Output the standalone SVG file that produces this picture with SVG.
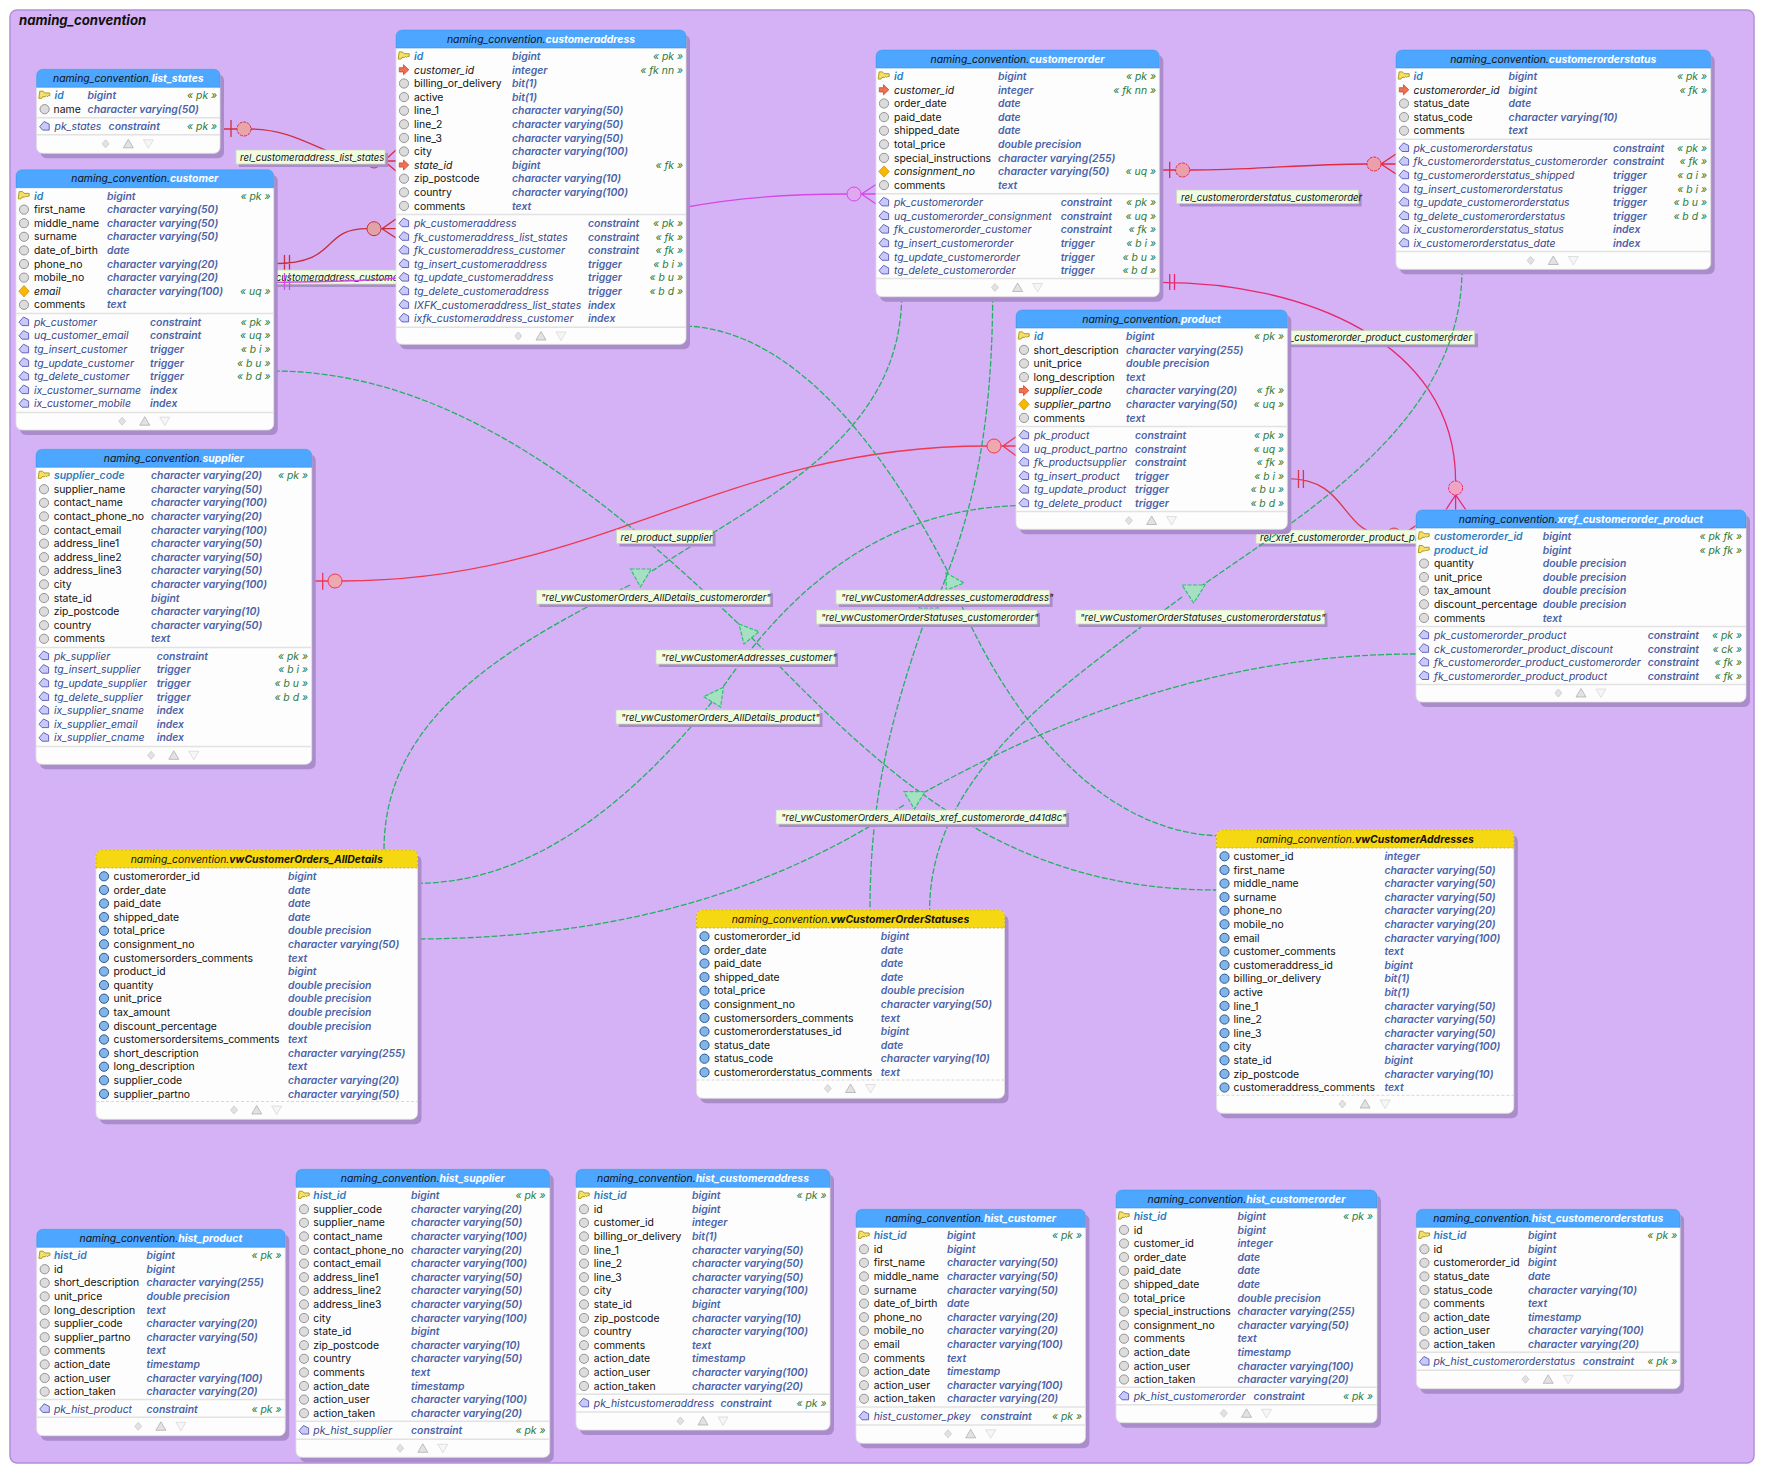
<svg xmlns="http://www.w3.org/2000/svg" width="1765" height="1476" viewBox="0 0 1765 1476">
<style>
text{font-family:"Inter","Liberation Sans",sans-serif;font-size:10.4px;fill:#111}
.h{text-anchor:middle;font-style:italic}
.w{font-weight:700;fill:#fff}
.b{font-weight:700;fill:#111}
.t{font-style:italic;font-weight:600;fill:#4a62a8}
.g{font-style:italic;fill:#2a7a3a;text-anchor:end}
.p{font-style:italic;font-weight:600;fill:#2a7cc0}
.f{font-style:italic}
.i{font-style:italic;fill:#35458c}
.s{fill:#a98cc9}
.bd{fill:#fdfdfd;stroke:#dfdfdf;stroke-width:.8}
.hd{fill:#4da6ff;stroke:#3d8edd;stroke-width:.6}
.hv{fill:#f6d812;stroke:#c9a900;stroke-width:.8;stroke-dasharray:2 2}
.sp{stroke:#e2e2e2;stroke-width:1.5;fill:none}
.sd{stroke:#d8d8d8;stroke-width:1;fill:none;stroke-dasharray:3 2}
.l{fill:none;stroke-width:1.3}
.d{fill:none;stroke:#22b162;stroke-width:1.3;stroke-dasharray:6 2}
.tr{fill:#a6e0c2;stroke:#2fc273;stroke-width:1.2;stroke-dasharray:4 1.5}
.lb{fill:#f0fde2;stroke:#ccd9b8;stroke-width:.8}
.ls{fill:#a98cc9}
.lt{font-style:italic;fill:#111;font-size:9.6px}
</style>
<defs>
<circle id="c" cx="8" cy="-3.6" r="4.6" fill="#dcdcdc" stroke="#959595"/>
<path id="k" d="M3.2,-8h3.3l1.5,1.8h5.2v2.7h-1.5l-1,1l-1,-1l-1,1h-2.7l-1,1.7h-2.8z" fill="#f5e06a" stroke="#b09a20"/>
<path id="a" d="M3.3,-5.8h4.2v-2.9l5.3,5l-5.3,5v-2.9h-4.2z" fill="#f07050" stroke="#c8452f" stroke-width=".8"/>
<path id="u" d="M8,-9.2l5.2,5.6l-5.2,5.6l-5.2,-5.6z" fill="#f8b800" stroke="#d09000" stroke-width=".8"/>
<path id="x" d="M3,-3.6L7.5,-8.8L12.6,-6.2V-0.2H6Z" fill="#c9c9f7" stroke="#5858b8" stroke-width=".9"/>
<circle id="v" cx="8" cy="-3.6" r="4.6" fill="#82b4ea" stroke="#2a5a90"/>
<g id="fi"><path d="M-22.7,-4l3.5,4l-3.5,4l-3.5,-4z" fill="#e2e2e2" stroke="#c4c4c4" stroke-width=".7"/><path d="M0,-4.5l5,8.5h-10z" fill="#e2e2e2" stroke="#a8a8a8" stroke-width=".7"/><path d="M20,4.5l-5,-8.5h10z" fill="#f6f6f6" stroke="#d4d4d4" stroke-width=".7"/></g>
</defs>
<rect x="10" y="10" width="1744" height="1453" rx="7" fill="#d5b2f5" stroke="#b48fd8" stroke-width="1.5"/>
<text x="19" y="25" style="font-size:13.2px;font-weight:700;font-style:italic">naming_convention</text>
<g id="connectors">
<g id="rel_customeraddress_list_states"><path class="l" stroke="#d0303f" d="M220,129H237M251,129C300,129 330,161 367,161M381,161H396M396,150L384,161L396,171M231,120V137"/><circle cx="244" cy="129" r="7" fill="#e8a6aa" stroke="#d0303f" stroke-dasharray="3 1"/><circle cx="374" cy="161" r="7" fill="#e8a6aa" stroke="#d0303f"/><rect class="ls" x="239" y="153" width="149" height="14"/><rect class="lb" x="236" y="150" width="149" height="14"/><text class="lt" x="240" y="160.5">rel_customeraddress_list_states</text></g>
<g id="rel_customeraddress_customer"><path class="l" stroke="#c62f3c" d="M274,263.7C340,263.7 320,228.7 367,228.7M381,228.7H396M396,219L382,228.7L396,238M284.5,255V271M289.5,255V271"/><circle cx="374" cy="228.7" r="7" fill="#e0a4a8" stroke="#c62f3c"/><rect class="ls" x="261" y="273" width="154" height="14"/><rect class="lb" x="258" y="270" width="154" height="14"/><text class="lt" x="260" y="280.5">rel_customeraddress_customer</text></g>
<g id="rel_customerorder_customer"><path class="l" stroke="#d648e6" d="M274,282.3C300,282 370,281 396,278L687,207C740,197 800,194 847,194M861,194H876M876,184.5L861.5,194L876,204M284.5,273V290M289.5,273V290"/><circle cx="854" cy="194" r="7" fill="#dfa8f0" stroke="#d648e6"/></g>
<g id="rel_customerorderstatus_customerorder"><path class="l" stroke="#e22a40" d="M1159.3,170H1176M1190,170C1260,170 1300,164 1367,164M1381,164H1396M1396,154L1381,164L1396,174M1169.7,161.7V178"/><circle cx="1182.6" cy="170" r="7" fill="#eaa0ac" stroke="#e22a40" stroke-dasharray="3 1"/><circle cx="1374" cy="164" r="7" fill="#eaa0ac" stroke="#e22a40" stroke-dasharray="3 1"/><rect class="ls" x="1179.6" y="193" width="182" height="13.5"/><rect class="lb" x="1176.6" y="190" width="182" height="13.5"/><text class="lt" x="1181" y="200.5">rel_customerorderstatus_customerorder</text></g>
<g id="rel_xref_customerorder_product_customerorder"><path class="l" stroke="#e8286e" d="M1159.3,282.3C1300,282 1455.6,340 1455.6,481M1455.6,495V510M1445.8,510L1455.6,495L1466,510M1169.7,274V290M1174.5,274V290"/><circle cx="1455.6" cy="488" r="7" fill="#efa4c4" stroke="#e8286e" stroke-dasharray="3 1"/><rect class="ls" x="1233" y="333.7" width="245" height="13.5"/><rect class="lb" x="1230" y="330.7" width="244.6" height="13.5"/><text class="lt" x="1472" y="341" text-anchor="end">rel_xref_customerorder_product_customerorder</text></g>
<g id="rel_xref_customerorder_product_product"><path class="l" stroke="#d8384e" d="M1287.3,478.7C1350,478.7 1340,535 1387,535M1401,535H1416M1416,525.5L1402,535L1416,545M1298.5,470V488M1303.4,470V488"/><circle cx="1394" cy="535" r="7" fill="#e8a4ac" stroke="#d8384e"/><rect class="ls" x="1259" y="533" width="220" height="13.5"/><rect class="lb" x="1256" y="530" width="220" height="13.5"/><text class="lt" x="1260" y="540.5">rel_xref_customerorder_product_product</text></g>
<g id="rel_product_supplier"><path class="l" stroke="#f03850" d="M311.7,581H328M342,581C600,581 720,446 987,446M1001,446H1016M1016,436.7L1003,446L1016,455.7M322.7,572.7V589.7"/><circle cx="335" cy="581" r="7" fill="#f0a8b0" stroke="#f03850"/><circle cx="994" cy="446" r="7" fill="#f0a8b0" stroke="#f03850"/></g>
<g id="rel_customerorders_customerorder"><path class="d" d="M901.7,296.7C900,440 760,500 652,571M630,585C500,650 384,720 384,850"/><path class="tr" d="M630.5,569H651.4L640.4,586.7Z"/></g>
<g id="rel_customeraddresses_customer"><path class="d" d="M273.7,371C460,371 620,510 745,630M751,637C880,770 1000,890 1216.5,890"/><path class="tr" d="M739,624L759,631.7L744,644Z"/></g>
<g id="rel_customeraddresses_customeraddress"><path class="d" d="M686,326C790,330 880,440 948,572M955,590C1000,700 1090,830 1216.5,835.7"/><path class="tr" d="M946,572.7L964,583L946.4,590Z"/></g>
<g id="rel_customerorderstatuses_customerorder"><path class="d" d="M992.7,296.7C992,440 970,520 937,600M925,620C890,720 870,800 870,910"/><path class="tr" d="M935,595L918,608L938,608Z"/></g>
<g id="rel_customerorderstatuses_status"><path class="d" d="M1462,269.3C1462,420 1310,510 1200,587M1182,597C1070,680 930,770 929.6,910"/><path class="tr" d="M1182,585H1205L1193.7,603Z"/></g>
<g id="rel_customerorders_product"><path class="d" d="M1016,505.7C880,510 790,590 723,687M712,702C640,790 540,883 417.5,883.3"/><path class="tr" d="M723.4,687.3L703.6,696.7L720.6,707Z"/></g>
<g id="rel_customerorders_xref"><path class="d" d="M1416,654C1250,654 1090,700 925,792M904,805C790,880 640,938 417.5,939"/><path class="tr" d="M904,791.7H925L914.4,809Z"/></g>
<g id="labels">
<rect class="ls" x="619.6" y="533" width="96" height="13.5"/><rect class="lb" x="616.6" y="530" width="96" height="13.5"/><text class="lt" x="620.6" y="540.5">rel_product_supplier</text>
<rect class="ls" x="539.4" y="593" width="233.6" height="14"/><rect class="lb" x="536.4" y="590" width="233.6" height="14"/><text class="lt" x="541" y="600.5">"rel_vwCustomerOrders_AllDetails_customerorder"</text>
<rect class="ls" x="839" y="593" width="213.6" height="14"/><rect class="lb" x="836" y="590" width="213.6" height="14"/><text class="lt" x="841" y="600.5">"rel_vwCustomerAddresses_customeraddress"</text>
<rect class="ls" x="819.3" y="613" width="220.7" height="14"/><rect class="lb" x="816.3" y="610" width="220.7" height="14"/><text class="lt" x="821" y="620.5">"rel_vwCustomerOrderStatuses_customerorder"</text>
<rect class="ls" x="659" y="653" width="179" height="14"/><rect class="lb" x="656" y="650" width="179" height="14"/><text class="lt" x="661" y="660.5">"rel_vwCustomerAddresses_customer"</text>
<rect class="ls" x="619" y="713" width="203.5" height="14"/><rect class="lb" x="616" y="710" width="203.5" height="14"/><text class="lt" x="621" y="720.5">"rel_vwCustomerOrders_AllDetails_product"</text>
<rect class="ls" x="779" y="813" width="290" height="14"/><rect class="lb" x="776" y="810" width="290" height="14"/><text class="lt" x="781" y="820.5">"rel_vwCustomerOrders_AllDetails_xref_customerorde_d41d8c"</text>
<rect class="ls" x="1078.6" y="613" width="248.8" height="14"/><rect class="lb" x="1075.6" y="610" width="248.8" height="14"/><text class="lt" x="1080" y="620.5">"rel_vwCustomerOrderStatuses_customerorderstatus"</text>
</g>
</g>
<g id="list_states" transform="translate(36.6,69.3)"><rect class="s" x="4" y="5" width="183.4" height="84" rx="6"/><rect class="bd" width="183.4" height="84" rx="6"/><path class="hd" d="M0,18V6a6,6 0 0 1 6,-6H177.4a6,6 0 0 1 6,6V18Z"/><text class="h" x="91.7" y="12.5">naming_convention.<tspan class="w">list_states</tspan></text>
<g transform="translate(0,29.9)"><use href="#k"/><text class="p" x="18">id</text><text class="t" x="51">bigint</text><text class="g" x="180.5">« pk »</text></g>
<g transform="translate(0,43.5)"><use href="#c"/><text x="17">name</text><text class="t" x="51">character varying(50)</text></g>
<path class="sp" d="M0,48.5H183.4"/>
<g transform="translate(0,61)"><use href="#x"/><text class="i" x="18">pk_states</text><text class="t" x="72">constraint</text><text class="g" x="180.5">« pk »</text></g>
<path class="sp" d="M0,65.5H183.4"/><use href="#fi" x="91.7" y="74.5"/></g>
<g id="customeraddress" transform="translate(396,30)"><rect class="s" x="4" y="5" width="290" height="314.3" rx="6"/><rect class="bd" width="290" height="314.3" rx="6"/><path class="hd" d="M0,18V6a6,6 0 0 1 6,-6H284a6,6 0 0 1 6,6V18Z"/><text class="h" x="145" y="12.5">naming_convention.<tspan class="w">customeraddress</tspan></text>
<g transform="translate(0,29.9)"><use href="#k"/><text class="p" x="18">id</text><text class="t" x="116">bigint</text><text class="g" x="287">« pk »</text></g>
<g transform="translate(0,43.5)"><use href="#a"/><text class="f" x="18">customer_id</text><text class="t" x="116">integer</text><text class="g" x="287">« fk nn »</text></g>
<g transform="translate(0,57.1)"><use href="#c"/><text x="18">billing_or_delivery</text><text class="t" x="116">bit(1)</text></g>
<g transform="translate(0,70.7)"><use href="#c"/><text x="18">active</text><text class="t" x="116">bit(1)</text></g>
<g transform="translate(0,84.3)"><use href="#c"/><text x="18">line_1</text><text class="t" x="116">character varying(50)</text></g>
<g transform="translate(0,97.9)"><use href="#c"/><text x="18">line_2</text><text class="t" x="116">character varying(50)</text></g>
<g transform="translate(0,111.5)"><use href="#c"/><text x="18">line_3</text><text class="t" x="116">character varying(50)</text></g>
<g transform="translate(0,125.1)"><use href="#c"/><text x="18">city</text><text class="t" x="116">character varying(100)</text></g>
<g transform="translate(0,138.7)"><use href="#a"/><text class="f" x="18">state_id</text><text class="t" x="116">bigint</text><text class="g" x="287">« fk »</text></g>
<g transform="translate(0,152.3)"><use href="#c"/><text x="18">zip_postcode</text><text class="t" x="116">character varying(10)</text></g>
<g transform="translate(0,165.9)"><use href="#c"/><text x="18">country</text><text class="t" x="116">character varying(100)</text></g>
<g transform="translate(0,179.5)"><use href="#c"/><text x="18">comments</text><text class="t" x="116">text</text></g>
<path class="sp" d="M0,184.5H290"/>
<g transform="translate(0,3.8)">
<g transform="translate(0,193.1)"><use href="#x"/><text class="i" x="18">pk_customeraddress</text><text class="t" x="192">constraint</text><text class="g" x="287">« pk »</text></g>
<g transform="translate(0,206.7)"><use href="#x"/><text class="i" x="18">fk_customeraddress_list_states</text><text class="t" x="192">constraint</text><text class="g" x="287">« fk »</text></g>
<g transform="translate(0,220.3)"><use href="#x"/><text class="i" x="18">fk_customeraddress_customer</text><text class="t" x="192">constraint</text><text class="g" x="287">« fk »</text></g>
<g transform="translate(0,233.9)"><use href="#x"/><text class="i" x="18">tg_insert_customeraddress</text><text class="t" x="192">trigger</text><text class="g" x="287">« b i »</text></g>
<g transform="translate(0,247.5)"><use href="#x"/><text class="i" x="18">tg_update_customeraddress</text><text class="t" x="192">trigger</text><text class="g" x="287">« b u »</text></g>
<g transform="translate(0,261.1)"><use href="#x"/><text class="i" x="18">tg_delete_customeraddress</text><text class="t" x="192">trigger</text><text class="g" x="287">« b d »</text></g>
<g transform="translate(0,274.7)"><use href="#x"/><text class="i" x="18">IXFK_customeraddress_list_states</text><text class="t" x="192">index</text></g>
<g transform="translate(0,288.3)"><use href="#x"/><text class="i" x="18">ixfk_customeraddress_customer</text><text class="t" x="192">index</text></g>
</g>
<path class="sp" d="M0,297.3H290"/><use href="#fi" x="145" y="306"/></g>
<g id="customer" transform="translate(16,169.7)"><rect class="s" x="4" y="5" width="257.7" height="260.3" rx="6"/><rect class="bd" width="257.7" height="260.3" rx="6"/><path class="hd" d="M0,18V6a6,6 0 0 1 6,-6H251.7a6,6 0 0 1 6,6V18Z"/><text class="h" x="128.8" y="12.5">naming_convention.<tspan class="w">customer</tspan></text>
<g transform="translate(0,29.9)"><use href="#k"/><text class="p" x="18">id</text><text class="t" x="91">bigint</text><text class="g" x="254.5">« pk »</text></g>
<g transform="translate(0,43.5)"><use href="#c"/><text x="18">first_name</text><text class="t" x="91">character varying(50)</text></g>
<g transform="translate(0,57.1)"><use href="#c"/><text x="18">middle_name</text><text class="t" x="91">character varying(50)</text></g>
<g transform="translate(0,70.7)"><use href="#c"/><text x="18">surname</text><text class="t" x="91">character varying(50)</text></g>
<g transform="translate(0,84.3)"><use href="#c"/><text x="18">date_of_birth</text><text class="t" x="91">date</text></g>
<g transform="translate(0,97.9)"><use href="#c"/><text x="18">phone_no</text><text class="t" x="91">character varying(20)</text></g>
<g transform="translate(0,111.5)"><use href="#c"/><text x="18">mobile_no</text><text class="t" x="91">character varying(20)</text></g>
<g transform="translate(0,125.1)"><use href="#u"/><text class="f" x="18">email</text><text class="t" x="91">character varying(100)</text><text class="g" x="254.5">« uq »</text></g>
<g transform="translate(0,138.7)"><use href="#c"/><text x="18">comments</text><text class="t" x="91">text</text></g>
<path class="sp" d="M0,143.7H257.7"/>
<g transform="translate(0,3.8)">
<g transform="translate(0,152.3)"><use href="#x"/><text class="i" x="18">pk_customer</text><text class="t" x="134">constraint</text><text class="g" x="254.5">« pk »</text></g>
<g transform="translate(0,165.9)"><use href="#x"/><text class="i" x="18">uq_customer_email</text><text class="t" x="134">constraint</text><text class="g" x="254.5">« uq »</text></g>
<g transform="translate(0,179.5)"><use href="#x"/><text class="i" x="18">tg_insert_customer</text><text class="t" x="134">trigger</text><text class="g" x="254.5">« b i »</text></g>
<g transform="translate(0,193.1)"><use href="#x"/><text class="i" x="18">tg_update_customer</text><text class="t" x="134">trigger</text><text class="g" x="254.5">« b u »</text></g>
<g transform="translate(0,206.7)"><use href="#x"/><text class="i" x="18">tg_delete_customer</text><text class="t" x="134">trigger</text><text class="g" x="254.5">« b d »</text></g>
<g transform="translate(0,220.3)"><use href="#x"/><text class="i" x="18">ix_customer_surname</text><text class="t" x="134">index</text></g>
<g transform="translate(0,233.9)"><use href="#x"/><text class="i" x="18">ix_customer_mobile</text><text class="t" x="134">index</text></g>
</g>
<path class="sp" d="M0,242.9H257.7"/><use href="#fi" x="128.8" y="251.5"/></g>
<g id="customerorder" transform="translate(876,50)"><rect class="s" x="4" y="5" width="283.3" height="246.7" rx="6"/><rect class="bd" width="283.3" height="246.7" rx="6"/><path class="hd" d="M0,18V6a6,6 0 0 1 6,-6H277.3a6,6 0 0 1 6,6V18Z"/><text class="h" x="141.6" y="12.5">naming_convention.<tspan class="w">customerorder</tspan></text>
<g transform="translate(0,29.9)"><use href="#k"/><text class="p" x="18">id</text><text class="t" x="122">bigint</text><text class="g" x="280">« pk »</text></g>
<g transform="translate(0,43.5)"><use href="#a"/><text class="f" x="18">customer_id</text><text class="t" x="122">integer</text><text class="g" x="280">« fk nn »</text></g>
<g transform="translate(0,57.1)"><use href="#c"/><text x="18">order_date</text><text class="t" x="122">date</text></g>
<g transform="translate(0,70.7)"><use href="#c"/><text x="18">paid_date</text><text class="t" x="122">date</text></g>
<g transform="translate(0,84.3)"><use href="#c"/><text x="18">shipped_date</text><text class="t" x="122">date</text></g>
<g transform="translate(0,97.9)"><use href="#c"/><text x="18">total_price</text><text class="t" x="122">double precision</text></g>
<g transform="translate(0,111.5)"><use href="#c"/><text x="18">special_instructions</text><text class="t" x="122">character varying(255)</text></g>
<g transform="translate(0,125.1)"><use href="#u"/><text class="f" x="18">consignment_no</text><text class="t" x="122">character varying(50)</text><text class="g" x="280">« uq »</text></g>
<g transform="translate(0,138.7)"><use href="#c"/><text x="18">comments</text><text class="t" x="122">text</text></g>
<path class="sp" d="M0,143.7H283.3"/>
<g transform="translate(0,3.8)">
<g transform="translate(0,152.3)"><use href="#x"/><text class="i" x="18">pk_customerorder</text><text class="t" x="184.7">constraint</text><text class="g" x="280">« pk »</text></g>
<g transform="translate(0,165.9)"><use href="#x"/><text class="i" x="18">uq_customerorder_consignment</text><text class="t" x="184.7">constraint</text><text class="g" x="280">« uq »</text></g>
<g transform="translate(0,179.5)"><use href="#x"/><text class="i" x="18">fk_customerorder_customer</text><text class="t" x="184.7">constraint</text><text class="g" x="280">« fk »</text></g>
<g transform="translate(0,193.1)"><use href="#x"/><text class="i" x="18">tg_insert_customerorder</text><text class="t" x="184.7">trigger</text><text class="g" x="280">« b i »</text></g>
<g transform="translate(0,206.7)"><use href="#x"/><text class="i" x="18">tg_update_customerorder</text><text class="t" x="184.7">trigger</text><text class="g" x="280">« b u »</text></g>
<g transform="translate(0,220.3)"><use href="#x"/><text class="i" x="18">tg_delete_customerorder</text><text class="t" x="184.7">trigger</text><text class="g" x="280">« b d »</text></g>
</g>
<path class="sp" d="M0,228.6H283.3"/><use href="#fi" x="141.6" y="237.5"/></g>
<g id="customerorderstatus" transform="translate(1396,50)"><rect class="s" x="4" y="5" width="314.7" height="219.3" rx="6"/><rect class="bd" width="314.7" height="219.3" rx="6"/><path class="hd" d="M0,18V6a6,6 0 0 1 6,-6H308.7a6,6 0 0 1 6,6V18Z"/><text class="h" x="157.3" y="12.5">naming_convention.<tspan class="w">customerorderstatus</tspan></text>
<g transform="translate(0,29.9)"><use href="#k"/><text class="p" x="17.5">id</text><text class="t" x="112.6">bigint</text><text class="g" x="311">« pk »</text></g>
<g transform="translate(0,43.5)"><use href="#a"/><text class="f" x="17.5">customerorder_id</text><text class="t" x="112.6">bigint</text><text class="g" x="311">« fk »</text></g>
<g transform="translate(0,57.1)"><use href="#c"/><text x="17.5">status_date</text><text class="t" x="112.6">date</text></g>
<g transform="translate(0,70.7)"><use href="#c"/><text x="17.5">status_code</text><text class="t" x="112.6">character varying(10)</text></g>
<g transform="translate(0,84.3)"><use href="#c"/><text x="17.5">comments</text><text class="t" x="112.6">text</text></g>
<path class="sp" d="M0,89.3H314.7"/>
<g transform="translate(0,3.8)">
<g transform="translate(0,97.9)"><use href="#x"/><text class="i" x="17.5">pk_customerorderstatus</text><text class="t" x="217">constraint</text><text class="g" x="311">« pk »</text></g>
<g transform="translate(0,111.5)"><use href="#x"/><text class="i" x="17.5">fk_customerorderstatus_customerorder</text><text class="t" x="217">constraint</text><text class="g" x="311">« fk »</text></g>
<g transform="translate(0,125.1)"><use href="#x"/><text class="i" x="17.5">tg_customerorderstatus_shipped</text><text class="t" x="217">trigger</text><text class="g" x="311">« a i »</text></g>
<g transform="translate(0,138.7)"><use href="#x"/><text class="i" x="17.5">tg_insert_customerorderstatus</text><text class="t" x="217">trigger</text><text class="g" x="311">« b i »</text></g>
<g transform="translate(0,152.3)"><use href="#x"/><text class="i" x="17.5">tg_update_customerorderstatus</text><text class="t" x="217">trigger</text><text class="g" x="311">« b u »</text></g>
<g transform="translate(0,165.9)"><use href="#x"/><text class="i" x="17.5">tg_delete_customerorderstatus</text><text class="t" x="217">trigger</text><text class="g" x="311">« b d »</text></g>
<g transform="translate(0,179.5)"><use href="#x"/><text class="i" x="17.5">ix_customerorderstatus_status</text><text class="t" x="217">index</text></g>
<g transform="translate(0,193.1)"><use href="#x"/><text class="i" x="17.5">ix_customerorderstatus_date</text><text class="t" x="217">index</text></g>
</g>
<path class="sp" d="M0,201.6H314.7"/><use href="#fi" x="157.3" y="210.5"/></g>
<g id="product" transform="translate(1016,310)"><rect class="s" x="4" y="5" width="271.3" height="219.3" rx="6"/><rect class="bd" width="271.3" height="219.3" rx="6"/><path class="hd" d="M0,18V6a6,6 0 0 1 6,-6H265.3a6,6 0 0 1 6,6V18Z"/><text class="h" x="135.6" y="12.5">naming_convention.<tspan class="w">product</tspan></text>
<g transform="translate(0,29.9)"><use href="#k"/><text class="p" x="18">id</text><text class="t" x="110">bigint</text><text class="g" x="268">« pk »</text></g>
<g transform="translate(0,43.5)"><use href="#c"/><text x="17.6">short_description</text><text class="t" x="110">character varying(255)</text></g>
<g transform="translate(0,57.1)"><use href="#c"/><text x="17.6">unit_price</text><text class="t" x="110">double precision</text></g>
<g transform="translate(0,70.7)"><use href="#c"/><text x="17.6">long_description</text><text class="t" x="110">text</text></g>
<g transform="translate(0,84.3)"><use href="#a"/><text class="f" x="18">supplier_code</text><text class="t" x="110">character varying(20)</text><text class="g" x="268">« fk »</text></g>
<g transform="translate(0,97.9)"><use href="#u"/><text class="f" x="18">supplier_partno</text><text class="t" x="110">character varying(50)</text><text class="g" x="268">« uq »</text></g>
<g transform="translate(0,111.5)"><use href="#c"/><text x="17.6">comments</text><text class="t" x="110">text</text></g>
<path class="sp" d="M0,116.5H271.3"/>
<g transform="translate(0,3.8)">
<g transform="translate(0,125.1)"><use href="#x"/><text class="i" x="18">pk_product</text><text class="t" x="119">constraint</text><text class="g" x="268">« pk »</text></g>
<g transform="translate(0,138.7)"><use href="#x"/><text class="i" x="18">uq_product_partno</text><text class="t" x="119">constraint</text><text class="g" x="268">« uq »</text></g>
<g transform="translate(0,152.3)"><use href="#x"/><text class="i" x="18">fk_productsupplier</text><text class="t" x="119">constraint</text><text class="g" x="268">« fk »</text></g>
<g transform="translate(0,165.9)"><use href="#x"/><text class="i" x="18">tg_insert_product</text><text class="t" x="119">trigger</text><text class="g" x="268">« b i »</text></g>
<g transform="translate(0,179.5)"><use href="#x"/><text class="i" x="18">tg_update_product</text><text class="t" x="119">trigger</text><text class="g" x="268">« b u »</text></g>
<g transform="translate(0,193.1)"><use href="#x"/><text class="i" x="18">tg_delete_product</text><text class="t" x="119">trigger</text><text class="g" x="268">« b d »</text></g>
</g>
<path class="sp" d="M0,201.6H271.3"/><use href="#fi" x="135.6" y="210.5"/></g>
<g id="xref_customerorder_product" transform="translate(1416,510)"><rect class="s" x="4" y="5" width="330" height="192" rx="6"/><rect class="bd" width="330" height="192" rx="6"/><path class="hd" d="M0,18V6a6,6 0 0 1 6,-6H324a6,6 0 0 1 6,6V18Z"/><text class="h" x="165" y="12.5">naming_convention.<tspan class="w">xref_customerorder_product</tspan></text>
<g transform="translate(0,29.9)"><use href="#k"/><text class="p" x="18">customerorder_id</text><text class="t" x="126.8">bigint</text><text class="g" x="326">« pk fk »</text></g>
<g transform="translate(0,43.5)"><use href="#k"/><text class="p" x="18">product_id</text><text class="t" x="126.8">bigint</text><text class="g" x="326">« pk fk »</text></g>
<g transform="translate(0,57.1)"><use href="#c"/><text x="18">quantity</text><text class="t" x="126.8">double precision</text></g>
<g transform="translate(0,70.7)"><use href="#c"/><text x="18">unit_price</text><text class="t" x="126.8">double precision</text></g>
<g transform="translate(0,84.3)"><use href="#c"/><text x="18">tax_amount</text><text class="t" x="126.8">double precision</text></g>
<g transform="translate(0,97.9)"><use href="#c"/><text x="18">discount_percentage</text><text class="t" x="126.8">double precision</text></g>
<g transform="translate(0,111.5)"><use href="#c"/><text x="18">comments</text><text class="t" x="126.8">text</text></g>
<path class="sp" d="M0,116.5H330"/>
<g transform="translate(0,3.8)">
<g transform="translate(0,125.1)"><use href="#x"/><text class="i" x="18">pk_customerorder_product</text><text class="t" x="231.7">constraint</text><text class="g" x="326">« pk »</text></g>
<g transform="translate(0,138.7)"><use href="#x"/><text class="i" x="18">ck_customerorder_product_discount</text><text class="t" x="231.7">constraint</text><text class="g" x="326">« ck »</text></g>
<g transform="translate(0,152.3)"><use href="#x"/><text class="i" x="18">fk_customerorder_product_customerorder</text><text class="t" x="231.7">constraint</text><text class="g" x="326">« fk »</text></g>
<g transform="translate(0,165.9)"><use href="#x"/><text class="i" x="18">fk_customerorder_product_product</text><text class="t" x="231.7">constraint</text><text class="g" x="326">« fk »</text></g>
</g>
<path class="sp" d="M0,174.5H330"/><use href="#fi" x="165" y="183"/></g>
<g id="supplier" transform="translate(36,449.3)"><rect class="s" x="4" y="5" width="275.7" height="315" rx="6"/><rect class="bd" width="275.7" height="315" rx="6"/><path class="hd" d="M0,18V6a6,6 0 0 1 6,-6H269.7a6,6 0 0 1 6,6V18Z"/><text class="h" x="137.8" y="12.5">naming_convention.<tspan class="w">supplier</tspan></text>
<g transform="translate(0,29.9)"><use href="#k"/><text class="p" x="18">supplier_code</text><text class="t" x="115">character varying(20)</text><text class="g" x="272">« pk »</text></g>
<g transform="translate(0,43.5)"><use href="#c"/><text x="17.7">supplier_name</text><text class="t" x="115">character varying(50)</text></g>
<g transform="translate(0,57.1)"><use href="#c"/><text x="17.7">contact_name</text><text class="t" x="115">character varying(100)</text></g>
<g transform="translate(0,70.7)"><use href="#c"/><text x="17.7">contact_phone_no</text><text class="t" x="115">character varying(20)</text></g>
<g transform="translate(0,84.3)"><use href="#c"/><text x="17.7">contact_email</text><text class="t" x="115">character varying(100)</text></g>
<g transform="translate(0,97.9)"><use href="#c"/><text x="17.7">address_line1</text><text class="t" x="115">character varying(50)</text></g>
<g transform="translate(0,111.5)"><use href="#c"/><text x="17.7">address_line2</text><text class="t" x="115">character varying(50)</text></g>
<g transform="translate(0,125.1)"><use href="#c"/><text x="17.7">address_line3</text><text class="t" x="115">character varying(50)</text></g>
<g transform="translate(0,138.7)"><use href="#c"/><text x="17.7">city</text><text class="t" x="115">character varying(100)</text></g>
<g transform="translate(0,152.3)"><use href="#c"/><text x="17.7">state_id</text><text class="t" x="115">bigint</text></g>
<g transform="translate(0,165.9)"><use href="#c"/><text x="17.7">zip_postcode</text><text class="t" x="115">character varying(10)</text></g>
<g transform="translate(0,179.5)"><use href="#c"/><text x="17.7">country</text><text class="t" x="115">character varying(50)</text></g>
<g transform="translate(0,193.1)"><use href="#c"/><text x="17.7">comments</text><text class="t" x="115">text</text></g>
<path class="sp" d="M0,198.1H275.7"/>
<g transform="translate(0,3.8)">
<g transform="translate(0,206.7)"><use href="#x"/><text class="i" x="18">pk_supplier</text><text class="t" x="120.7">constraint</text><text class="g" x="272">« pk »</text></g>
<g transform="translate(0,220.3)"><use href="#x"/><text class="i" x="18">tg_insert_supplier</text><text class="t" x="120.7">trigger</text><text class="g" x="272">« b i »</text></g>
<g transform="translate(0,233.9)"><use href="#x"/><text class="i" x="18">tg_update_supplier</text><text class="t" x="120.7">trigger</text><text class="g" x="272">« b u »</text></g>
<g transform="translate(0,247.5)"><use href="#x"/><text class="i" x="18">tg_delete_supplier</text><text class="t" x="120.7">trigger</text><text class="g" x="272">« b d »</text></g>
<g transform="translate(0,261.1)"><use href="#x"/><text class="i" x="18">ix_supplier_sname</text><text class="t" x="120.7">index</text></g>
<g transform="translate(0,274.7)"><use href="#x"/><text class="i" x="18">ix_supplier_email</text><text class="t" x="120.7">index</text></g>
<g transform="translate(0,288.3)"><use href="#x"/><text class="i" x="18">ix_supplier_cname</text><text class="t" x="120.7">index</text></g>
</g>
<path class="sp" d="M0,297.3H275.7"/><use href="#fi" x="137.8" y="306"/></g>
<g id="vwCustomerOrders_AllDetails" transform="translate(96,850)"><rect class="s" x="4" y="5" width="321.5" height="269.3" rx="6"/><rect class="bd" width="321.5" height="269.3" rx="6"/><path class="hv" d="M0,18V6a6,6 0 0 1 6,-6H315.5a6,6 0 0 1 6,6V18Z"/><text class="h" x="160.7" y="12.5">naming_convention.<tspan class="b">vwCustomerOrders_AllDetails</tspan></text>
<g transform="translate(0,29.9)"><use href="#v"/><text x="17.5">customerorder_id</text><text class="t" x="192">bigint</text></g>
<g transform="translate(0,43.5)"><use href="#v"/><text x="17.5">order_date</text><text class="t" x="192">date</text></g>
<g transform="translate(0,57.1)"><use href="#v"/><text x="17.5">paid_date</text><text class="t" x="192">date</text></g>
<g transform="translate(0,70.7)"><use href="#v"/><text x="17.5">shipped_date</text><text class="t" x="192">date</text></g>
<g transform="translate(0,84.3)"><use href="#v"/><text x="17.5">total_price</text><text class="t" x="192">double precision</text></g>
<g transform="translate(0,97.9)"><use href="#v"/><text x="17.5">consignment_no</text><text class="t" x="192">character varying(50)</text></g>
<g transform="translate(0,111.5)"><use href="#v"/><text x="17.5">customersorders_comments</text><text class="t" x="192">text</text></g>
<g transform="translate(0,125.1)"><use href="#v"/><text x="17.5">product_id</text><text class="t" x="192">bigint</text></g>
<g transform="translate(0,138.7)"><use href="#v"/><text x="17.5">quantity</text><text class="t" x="192">double precision</text></g>
<g transform="translate(0,152.3)"><use href="#v"/><text x="17.5">unit_price</text><text class="t" x="192">double precision</text></g>
<g transform="translate(0,165.9)"><use href="#v"/><text x="17.5">tax_amount</text><text class="t" x="192">double precision</text></g>
<g transform="translate(0,179.5)"><use href="#v"/><text x="17.5">discount_percentage</text><text class="t" x="192">double precision</text></g>
<g transform="translate(0,193.1)"><use href="#v"/><text x="17.5">customersordersitems_comments</text><text class="t" x="192">text</text></g>
<g transform="translate(0,206.7)"><use href="#v"/><text x="17.5">short_description</text><text class="t" x="192">character varying(255)</text></g>
<g transform="translate(0,220.3)"><use href="#v"/><text x="17.5">long_description</text><text class="t" x="192">text</text></g>
<g transform="translate(0,233.9)"><use href="#v"/><text x="17.5">supplier_code</text><text class="t" x="192">character varying(20)</text></g>
<g transform="translate(0,247.5)"><use href="#v"/><text x="17.5">supplier_partno</text><text class="t" x="192">character varying(50)</text></g>
<path class="sd" d="M0,251.5H321.5"/><use href="#fi" x="160.7" y="260"/></g>
<g id="vwCustomerOrderStatuses" transform="translate(696.5,910)"><rect class="s" x="4" y="5" width="308" height="188.3" rx="6"/><rect class="bd" width="308" height="188.3" rx="6"/><path class="hv" d="M0,18V6a6,6 0 0 1 6,-6H302a6,6 0 0 1 6,6V18Z"/><text class="h" x="154" y="12.5">naming_convention.<tspan class="b">vwCustomerOrderStatuses</tspan></text>
<g transform="translate(0,29.9)"><use href="#v"/><text x="17.5">customerorder_id</text><text class="t" x="184.3">bigint</text></g>
<g transform="translate(0,43.5)"><use href="#v"/><text x="17.5">order_date</text><text class="t" x="184.3">date</text></g>
<g transform="translate(0,57.1)"><use href="#v"/><text x="17.5">paid_date</text><text class="t" x="184.3">date</text></g>
<g transform="translate(0,70.7)"><use href="#v"/><text x="17.5">shipped_date</text><text class="t" x="184.3">date</text></g>
<g transform="translate(0,84.3)"><use href="#v"/><text x="17.5">total_price</text><text class="t" x="184.3">double precision</text></g>
<g transform="translate(0,97.9)"><use href="#v"/><text x="17.5">consignment_no</text><text class="t" x="184.3">character varying(50)</text></g>
<g transform="translate(0,111.5)"><use href="#v"/><text x="17.5">customersorders_comments</text><text class="t" x="184.3">text</text></g>
<g transform="translate(0,125.1)"><use href="#v"/><text x="17.5">customerorderstatuses_id</text><text class="t" x="184.3">bigint</text></g>
<g transform="translate(0,138.7)"><use href="#v"/><text x="17.5">status_date</text><text class="t" x="184.3">date</text></g>
<g transform="translate(0,152.3)"><use href="#v"/><text x="17.5">status_code</text><text class="t" x="184.3">character varying(10)</text></g>
<g transform="translate(0,165.9)"><use href="#v"/><text x="17.5">customerorderstatus_comments</text><text class="t" x="184.3">text</text></g>
<path class="sd" d="M0,170H308"/><use href="#fi" x="154" y="178.5"/></g>
<g id="vwCustomerAddresses" transform="translate(1216.5,830)"><rect class="s" x="4" y="5" width="297.3" height="283.3" rx="6"/><rect class="bd" width="297.3" height="283.3" rx="6"/><path class="hv" d="M0,18V6a6,6 0 0 1 6,-6H291.3a6,6 0 0 1 6,6V18Z"/><text class="h" x="148.6" y="12.5">naming_convention.<tspan class="b">vwCustomerAddresses</tspan></text>
<g transform="translate(0,29.9)"><use href="#v"/><text x="17">customer_id</text><text class="t" x="167.9">integer</text></g>
<g transform="translate(0,43.5)"><use href="#v"/><text x="17">first_name</text><text class="t" x="167.9">character varying(50)</text></g>
<g transform="translate(0,57.1)"><use href="#v"/><text x="17">middle_name</text><text class="t" x="167.9">character varying(50)</text></g>
<g transform="translate(0,70.7)"><use href="#v"/><text x="17">surname</text><text class="t" x="167.9">character varying(50)</text></g>
<g transform="translate(0,84.3)"><use href="#v"/><text x="17">phone_no</text><text class="t" x="167.9">character varying(20)</text></g>
<g transform="translate(0,97.9)"><use href="#v"/><text x="17">mobile_no</text><text class="t" x="167.9">character varying(20)</text></g>
<g transform="translate(0,111.5)"><use href="#v"/><text x="17">email</text><text class="t" x="167.9">character varying(100)</text></g>
<g transform="translate(0,125.1)"><use href="#v"/><text x="17">customer_comments</text><text class="t" x="167.9">text</text></g>
<g transform="translate(0,138.7)"><use href="#v"/><text x="17">customeraddress_id</text><text class="t" x="167.9">bigint</text></g>
<g transform="translate(0,152.3)"><use href="#v"/><text x="17">billing_or_delivery</text><text class="t" x="167.9">bit(1)</text></g>
<g transform="translate(0,165.9)"><use href="#v"/><text x="17">active</text><text class="t" x="167.9">bit(1)</text></g>
<g transform="translate(0,179.5)"><use href="#v"/><text x="17">line_1</text><text class="t" x="167.9">character varying(50)</text></g>
<g transform="translate(0,193.1)"><use href="#v"/><text x="17">line_2</text><text class="t" x="167.9">character varying(50)</text></g>
<g transform="translate(0,206.7)"><use href="#v"/><text x="17">line_3</text><text class="t" x="167.9">character varying(50)</text></g>
<g transform="translate(0,220.3)"><use href="#v"/><text x="17">city</text><text class="t" x="167.9">character varying(100)</text></g>
<g transform="translate(0,233.9)"><use href="#v"/><text x="17">state_id</text><text class="t" x="167.9">bigint</text></g>
<g transform="translate(0,247.5)"><use href="#v"/><text x="17">zip_postcode</text><text class="t" x="167.9">character varying(10)</text></g>
<g transform="translate(0,261.1)"><use href="#v"/><text x="17">customeraddress_comments</text><text class="t" x="167.9">text</text></g>
<path class="sd" d="M0,265.3H297.3"/><use href="#fi" x="148.6" y="274"/></g>
<g id="hist_product" transform="translate(36.7,1229.3)"><rect class="s" x="4" y="5" width="248.5" height="206.4" rx="6"/><rect class="bd" width="248.5" height="206.4" rx="6"/><path class="hd" d="M0,18V6a6,6 0 0 1 6,-6H242.5a6,6 0 0 1 6,6V18Z"/><text class="h" x="124.2" y="12.5">naming_convention.<tspan class="w">hist_product</tspan></text>
<g transform="translate(0,29.9)"><use href="#k"/><text class="p" x="17.3">hist_id</text><text class="t" x="109.8">bigint</text><text class="g" x="244.8">« pk »</text></g>
<g transform="translate(0,43.5)"><use href="#c"/><text x="17.3">id</text><text class="t" x="109.8">bigint</text></g>
<g transform="translate(0,57.1)"><use href="#c"/><text x="17.3">short_description</text><text class="t" x="109.8">character varying(255)</text></g>
<g transform="translate(0,70.7)"><use href="#c"/><text x="17.3">unit_price</text><text class="t" x="109.8">double precision</text></g>
<g transform="translate(0,84.3)"><use href="#c"/><text x="17.3">long_description</text><text class="t" x="109.8">text</text></g>
<g transform="translate(0,97.9)"><use href="#c"/><text x="17.3">supplier_code</text><text class="t" x="109.8">character varying(20)</text></g>
<g transform="translate(0,111.5)"><use href="#c"/><text x="17.3">supplier_partno</text><text class="t" x="109.8">character varying(50)</text></g>
<g transform="translate(0,125.1)"><use href="#c"/><text x="17.3">comments</text><text class="t" x="109.8">text</text></g>
<g transform="translate(0,138.7)"><use href="#c"/><text x="17.3">action_date</text><text class="t" x="109.8">timestamp</text></g>
<g transform="translate(0,152.3)"><use href="#c"/><text x="17.3">action_user</text><text class="t" x="109.8">character varying(100)</text></g>
<g transform="translate(0,165.9)"><use href="#c"/><text x="17.3">action_taken</text><text class="t" x="109.8">character varying(20)</text></g>
<path class="sp" d="M0,170.3H248.5"/>
<g transform="translate(0,183.3)"><use href="#x"/><text class="i" x="17.3">pk_hist_product</text><text class="t" x="109.8">constraint</text><text class="g" x="244.8">« pk »</text></g>
<path class="sp" d="M0,188H248.5"/><use href="#fi" x="124.2" y="197"/></g>
<g id="hist_supplier" transform="translate(296,1169.3)"><rect class="s" x="4" y="5" width="253.7" height="288" rx="6"/><rect class="bd" width="253.7" height="288" rx="6"/><path class="hd" d="M0,18V6a6,6 0 0 1 6,-6H247.7a6,6 0 0 1 6,6V18Z"/><text class="h" x="126.8" y="12.5">naming_convention.<tspan class="w">hist_supplier</tspan></text>
<g transform="translate(0,29.9)"><use href="#k"/><text class="p" x="17.3">hist_id</text><text class="t" x="115">bigint</text><text class="g" x="249.5">« pk »</text></g>
<g transform="translate(0,43.5)"><use href="#c"/><text x="17.3">supplier_code</text><text class="t" x="115">character varying(20)</text></g>
<g transform="translate(0,57.1)"><use href="#c"/><text x="17.3">supplier_name</text><text class="t" x="115">character varying(50)</text></g>
<g transform="translate(0,70.7)"><use href="#c"/><text x="17.3">contact_name</text><text class="t" x="115">character varying(100)</text></g>
<g transform="translate(0,84.3)"><use href="#c"/><text x="17.3">contact_phone_no</text><text class="t" x="115">character varying(20)</text></g>
<g transform="translate(0,97.9)"><use href="#c"/><text x="17.3">contact_email</text><text class="t" x="115">character varying(100)</text></g>
<g transform="translate(0,111.5)"><use href="#c"/><text x="17.3">address_line1</text><text class="t" x="115">character varying(50)</text></g>
<g transform="translate(0,125.1)"><use href="#c"/><text x="17.3">address_line2</text><text class="t" x="115">character varying(50)</text></g>
<g transform="translate(0,138.7)"><use href="#c"/><text x="17.3">address_line3</text><text class="t" x="115">character varying(50)</text></g>
<g transform="translate(0,152.3)"><use href="#c"/><text x="17.3">city</text><text class="t" x="115">character varying(100)</text></g>
<g transform="translate(0,165.9)"><use href="#c"/><text x="17.3">state_id</text><text class="t" x="115">bigint</text></g>
<g transform="translate(0,179.5)"><use href="#c"/><text x="17.3">zip_postcode</text><text class="t" x="115">character varying(10)</text></g>
<g transform="translate(0,193.1)"><use href="#c"/><text x="17.3">country</text><text class="t" x="115">character varying(50)</text></g>
<g transform="translate(0,206.7)"><use href="#c"/><text x="17.3">comments</text><text class="t" x="115">text</text></g>
<g transform="translate(0,220.3)"><use href="#c"/><text x="17.3">action_date</text><text class="t" x="115">timestamp</text></g>
<g transform="translate(0,233.9)"><use href="#c"/><text x="17.3">action_user</text><text class="t" x="115">character varying(100)</text></g>
<g transform="translate(0,247.5)"><use href="#c"/><text x="17.3">action_taken</text><text class="t" x="115">character varying(20)</text></g>
<path class="sp" d="M0,252H253.7"/>
<g transform="translate(0,265)"><use href="#x"/><text class="i" x="17.3">pk_hist_supplier</text><text class="t" x="115">constraint</text><text class="g" x="249.5">« pk »</text></g>
<path class="sp" d="M0,270H253.7"/><use href="#fi" x="126.8" y="279"/></g>
<g id="hist_customeraddress" transform="translate(576,1169.3)"><rect class="s" x="4" y="5" width="254" height="260.7" rx="6"/><rect class="bd" width="254" height="260.7" rx="6"/><path class="hd" d="M0,18V6a6,6 0 0 1 6,-6H248a6,6 0 0 1 6,6V18Z"/><text class="h" x="127" y="12.5">naming_convention.<tspan class="w">hist_customeraddress</tspan></text>
<g transform="translate(0,29.9)"><use href="#k"/><text class="p" x="17.8">hist_id</text><text class="t" x="116">bigint</text><text class="g" x="250.5">« pk »</text></g>
<g transform="translate(0,43.5)"><use href="#c"/><text x="17.8">id</text><text class="t" x="116">bigint</text></g>
<g transform="translate(0,57.1)"><use href="#c"/><text x="17.8">customer_id</text><text class="t" x="116">integer</text></g>
<g transform="translate(0,70.7)"><use href="#c"/><text x="17.8">billing_or_delivery</text><text class="t" x="116">bit(1)</text></g>
<g transform="translate(0,84.3)"><use href="#c"/><text x="17.8">line_1</text><text class="t" x="116">character varying(50)</text></g>
<g transform="translate(0,97.9)"><use href="#c"/><text x="17.8">line_2</text><text class="t" x="116">character varying(50)</text></g>
<g transform="translate(0,111.5)"><use href="#c"/><text x="17.8">line_3</text><text class="t" x="116">character varying(50)</text></g>
<g transform="translate(0,125.1)"><use href="#c"/><text x="17.8">city</text><text class="t" x="116">character varying(100)</text></g>
<g transform="translate(0,138.7)"><use href="#c"/><text x="17.8">state_id</text><text class="t" x="116">bigint</text></g>
<g transform="translate(0,152.3)"><use href="#c"/><text x="17.8">zip_postcode</text><text class="t" x="116">character varying(10)</text></g>
<g transform="translate(0,165.9)"><use href="#c"/><text x="17.8">country</text><text class="t" x="116">character varying(100)</text></g>
<g transform="translate(0,179.5)"><use href="#c"/><text x="17.8">comments</text><text class="t" x="116">text</text></g>
<g transform="translate(0,193.1)"><use href="#c"/><text x="17.8">action_date</text><text class="t" x="116">timestamp</text></g>
<g transform="translate(0,206.7)"><use href="#c"/><text x="17.8">action_user</text><text class="t" x="116">character varying(100)</text></g>
<g transform="translate(0,220.3)"><use href="#c"/><text x="17.8">action_taken</text><text class="t" x="116">character varying(20)</text></g>
<path class="sp" d="M0,225H254"/>
<g transform="translate(0,237.7)"><use href="#x"/><text class="i" x="17.8">pk_histcustomeraddress</text><text class="t" x="144.4">constraint</text><text class="g" x="250.5">« pk »</text></g>
<path class="sp" d="M0,242.7H254"/><use href="#fi" x="127" y="251.7"/></g>
<g id="hist_customer" transform="translate(856,1209.3)"><rect class="s" x="4" y="5" width="229.4" height="234" rx="6"/><rect class="bd" width="229.4" height="234" rx="6"/><path class="hd" d="M0,18V6a6,6 0 0 1 6,-6H223.4a6,6 0 0 1 6,6V18Z"/><text class="h" x="114.7" y="12.5">naming_convention.<tspan class="w">hist_customer</tspan></text>
<g transform="translate(0,29.9)"><use href="#k"/><text class="p" x="17.7">hist_id</text><text class="t" x="90.9">bigint</text><text class="g" x="226">« pk »</text></g>
<g transform="translate(0,43.5)"><use href="#c"/><text x="17.7">id</text><text class="t" x="90.9">bigint</text></g>
<g transform="translate(0,57.1)"><use href="#c"/><text x="17.7">first_name</text><text class="t" x="90.9">character varying(50)</text></g>
<g transform="translate(0,70.7)"><use href="#c"/><text x="17.7">middle_name</text><text class="t" x="90.9">character varying(50)</text></g>
<g transform="translate(0,84.3)"><use href="#c"/><text x="17.7">surname</text><text class="t" x="90.9">character varying(50)</text></g>
<g transform="translate(0,97.9)"><use href="#c"/><text x="17.7">date_of_birth</text><text class="t" x="90.9">date</text></g>
<g transform="translate(0,111.5)"><use href="#c"/><text x="17.7">phone_no</text><text class="t" x="90.9">character varying(20)</text></g>
<g transform="translate(0,125.1)"><use href="#c"/><text x="17.7">mobile_no</text><text class="t" x="90.9">character varying(20)</text></g>
<g transform="translate(0,138.7)"><use href="#c"/><text x="17.7">email</text><text class="t" x="90.9">character varying(100)</text></g>
<g transform="translate(0,152.3)"><use href="#c"/><text x="17.7">comments</text><text class="t" x="90.9">text</text></g>
<g transform="translate(0,165.9)"><use href="#c"/><text x="17.7">action_date</text><text class="t" x="90.9">timestamp</text></g>
<g transform="translate(0,179.5)"><use href="#c"/><text x="17.7">action_user</text><text class="t" x="90.9">character varying(100)</text></g>
<g transform="translate(0,193.1)"><use href="#c"/><text x="17.7">action_taken</text><text class="t" x="90.9">character varying(20)</text></g>
<path class="sp" d="M0,197.7H229.4"/>
<g transform="translate(0,210.7)"><use href="#x"/><text class="i" x="17.7">hist_customer_pkey</text><text class="t" x="124.5">constraint</text><text class="g" x="226">« pk »</text></g>
<path class="sp" d="M0,215.7H229.4"/><use href="#fi" x="114.7" y="224.5"/></g>
<g id="hist_customerorder" transform="translate(1116,1190)"><rect class="s" x="4" y="5" width="261" height="232.7" rx="6"/><rect class="bd" width="261" height="232.7" rx="6"/><path class="hd" d="M0,18V6a6,6 0 0 1 6,-6H255a6,6 0 0 1 6,6V18Z"/><text class="h" x="130.5" y="12.5">naming_convention.<tspan class="w">hist_customerorder</tspan></text>
<g transform="translate(0,29.9)"><use href="#k"/><text class="p" x="17.7">hist_id</text><text class="t" x="121.5">bigint</text><text class="g" x="257">« pk »</text></g>
<g transform="translate(0,43.5)"><use href="#c"/><text x="17.7">id</text><text class="t" x="121.5">bigint</text></g>
<g transform="translate(0,57.1)"><use href="#c"/><text x="17.7">customer_id</text><text class="t" x="121.5">integer</text></g>
<g transform="translate(0,70.7)"><use href="#c"/><text x="17.7">order_date</text><text class="t" x="121.5">date</text></g>
<g transform="translate(0,84.3)"><use href="#c"/><text x="17.7">paid_date</text><text class="t" x="121.5">date</text></g>
<g transform="translate(0,97.9)"><use href="#c"/><text x="17.7">shipped_date</text><text class="t" x="121.5">date</text></g>
<g transform="translate(0,111.5)"><use href="#c"/><text x="17.7">total_price</text><text class="t" x="121.5">double precision</text></g>
<g transform="translate(0,125.1)"><use href="#c"/><text x="17.7">special_instructions</text><text class="t" x="121.5">character varying(255)</text></g>
<g transform="translate(0,138.7)"><use href="#c"/><text x="17.7">consignment_no</text><text class="t" x="121.5">character varying(50)</text></g>
<g transform="translate(0,152.3)"><use href="#c"/><text x="17.7">comments</text><text class="t" x="121.5">text</text></g>
<g transform="translate(0,165.9)"><use href="#c"/><text x="17.7">action_date</text><text class="t" x="121.5">timestamp</text></g>
<g transform="translate(0,179.5)"><use href="#c"/><text x="17.7">action_user</text><text class="t" x="121.5">character varying(100)</text></g>
<g transform="translate(0,193.1)"><use href="#c"/><text x="17.7">action_taken</text><text class="t" x="121.5">character varying(20)</text></g>
<path class="sp" d="M0,197.3H261"/>
<g transform="translate(0,210)"><use href="#x"/><text class="i" x="17.7">pk_hist_customerorder</text><text class="t" x="137.5">constraint</text><text class="g" x="257">« pk »</text></g>
<path class="sp" d="M0,214.7H261"/><use href="#fi" x="130.5" y="223.3"/></g>
<g id="hist_customerorderstatus" transform="translate(1416.4,1209.3)"><rect class="s" x="4" y="5" width="263.7" height="179.4" rx="6"/><rect class="bd" width="263.7" height="179.4" rx="6"/><path class="hd" d="M0,18V6a6,6 0 0 1 6,-6H257.7a6,6 0 0 1 6,6V18Z"/><text class="h" x="131.8" y="12.5">naming_convention.<tspan class="w">hist_customerorderstatus</tspan></text>
<g transform="translate(0,29.9)"><use href="#k"/><text class="p" x="17">hist_id</text><text class="t" x="111.5">bigint</text><text class="g" x="260.8">« pk »</text></g>
<g transform="translate(0,43.5)"><use href="#c"/><text x="17">id</text><text class="t" x="111.5">bigint</text></g>
<g transform="translate(0,57.1)"><use href="#c"/><text x="17">customerorder_id</text><text class="t" x="111.5">bigint</text></g>
<g transform="translate(0,70.7)"><use href="#c"/><text x="17">status_date</text><text class="t" x="111.5">date</text></g>
<g transform="translate(0,84.3)"><use href="#c"/><text x="17">status_code</text><text class="t" x="111.5">character varying(10)</text></g>
<g transform="translate(0,97.9)"><use href="#c"/><text x="17">comments</text><text class="t" x="111.5">text</text></g>
<g transform="translate(0,111.5)"><use href="#c"/><text x="17">action_date</text><text class="t" x="111.5">timestamp</text></g>
<g transform="translate(0,125.1)"><use href="#c"/><text x="17">action_user</text><text class="t" x="111.5">character varying(100)</text></g>
<g transform="translate(0,138.7)"><use href="#c"/><text x="17">action_taken</text><text class="t" x="111.5">character varying(20)</text></g>
<path class="sp" d="M0,143H263.7"/>
<g transform="translate(0,156)"><use href="#x"/><text class="i" x="17">pk_hist_customerorderstatus</text><text class="t" x="166.4">constraint</text><text class="g" x="260.8">« pk »</text></g>
<path class="sp" d="M0,161H263.7"/><use href="#fi" x="131.8" y="170"/></g>
</svg>
